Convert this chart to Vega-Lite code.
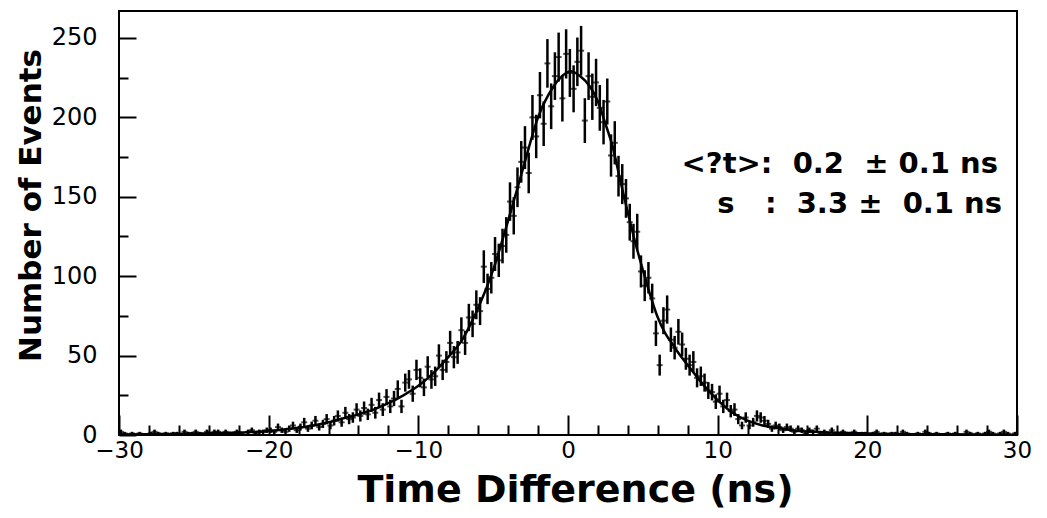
{
  "$schema": "https://vega.github.io/schema/vega-lite/v6.json",
  "autosize": {"type": "none"},
  "width": 898,
  "height": 424,
  "padding": {"left": 119, "top": 11, "right": 30, "bottom": 83},
  "background": "white",
  "config": {"view": {"stroke": "black", "strokeWidth": 2}},
  "datasets": {
    "hist": [
      {"x":-29.875,"n":2,"e":1.4},{"x":-29.625,"n":1,"e":1},{"x":-29.375,"n":0,"e":0},{"x":-29.125,"n":1,"e":1},{"x":-28.875,"n":0,"e":0},{"x":-28.625,"n":1,"e":1},{"x":-28.375,"n":0,"e":0},{"x":-28.125,"n":0,"e":0},{"x":-27.875,"n":1,"e":1},{"x":-27.625,"n":2,"e":1.4},
      {"x":-27.375,"n":1,"e":1},{"x":-27.125,"n":0,"e":0},{"x":-26.875,"n":1,"e":1},{"x":-26.625,"n":0,"e":0},{"x":-26.375,"n":1,"e":1},{"x":-26.125,"n":1,"e":1},{"x":-25.875,"n":0,"e":0},{"x":-25.625,"n":2,"e":1.4},{"x":-25.375,"n":1,"e":1},{"x":-25.125,"n":1,"e":1},
      {"x":-24.875,"n":2,"e":1.4},{"x":-24.625,"n":1,"e":1},{"x":-24.375,"n":0,"e":0},{"x":-24.125,"n":2,"e":1.4},{"x":-23.875,"n":1,"e":1},{"x":-23.625,"n":2,"e":1.4},{"x":-23.375,"n":2,"e":1.4},{"x":-23.125,"n":1,"e":1},{"x":-22.875,"n":2,"e":1.4},{"x":-22.625,"n":1,"e":1},
      {"x":-22.375,"n":1,"e":1},{"x":-22.125,"n":2,"e":1.4},{"x":-21.875,"n":1,"e":1},{"x":-21.625,"n":0,"e":0},{"x":-21.375,"n":2,"e":1.4},{"x":-21.125,"n":3,"e":1.7},{"x":-20.875,"n":1,"e":1},{"x":-20.625,"n":2,"e":1.4},{"x":-20.375,"n":2,"e":1.4},{"x":-20.125,"n":3,"e":1.7},
      {"x":-19.875,"n":3,"e":1.7},{"x":-19.625,"n":2,"e":1.4},{"x":-19.375,"n":5,"e":2.2},{"x":-19.125,"n":3,"e":1.7},{"x":-18.875,"n":2,"e":1.4},{"x":-18.625,"n":4,"e":2},{"x":-18.375,"n":6,"e":2.4},{"x":-18.125,"n":3,"e":1.7},{"x":-17.875,"n":5,"e":2.2},{"x":-17.625,"n":8,"e":2.8},
      {"x":-17.375,"n":4,"e":2},{"x":-17.125,"n":6,"e":2.4},{"x":-16.875,"n":9,"e":3},{"x":-16.625,"n":5,"e":2.2},{"x":-16.375,"n":7,"e":2.6},{"x":-16.125,"n":10,"e":3.2},{"x":-15.875,"n":6,"e":2.4},{"x":-15.625,"n":9,"e":3},{"x":-15.375,"n":12,"e":3.5},{"x":-15.125,"n":8,"e":2.8},
      {"x":-14.875,"n":14,"e":3.7},{"x":-14.625,"n":10,"e":3.2},{"x":-14.375,"n":11,"e":3.3},{"x":-14.125,"n":16,"e":4},{"x":-13.875,"n":12,"e":3.5},{"x":-13.625,"n":17,"e":4.1},{"x":-13.375,"n":13,"e":3.6},{"x":-13.125,"n":19,"e":4.4},{"x":-12.875,"n":14,"e":3.7},{"x":-12.625,"n":22,"e":4.7},
      {"x":-12.375,"n":16,"e":4},{"x":-12.125,"n":24,"e":4.9},{"x":-11.875,"n":18,"e":4.2},{"x":-11.625,"n":23,"e":4.8},{"x":-11.375,"n":29,"e":5.4},{"x":-11.125,"n":18,"e":4.2},{"x":-10.875,"n":33,"e":5.7},{"x":-10.625,"n":35,"e":5.9},{"x":-10.375,"n":26,"e":5.1},{"x":-10.125,"n":41,"e":6.4},
      {"x":-9.875,"n":36,"e":6},{"x":-9.625,"n":30,"e":5.5},{"x":-9.375,"n":43,"e":6.6},{"x":-9.125,"n":35,"e":5.9},{"x":-8.875,"n":37,"e":6.1},{"x":-8.625,"n":50,"e":7.1},{"x":-8.375,"n":41,"e":6.4},{"x":-8.125,"n":46,"e":6.8},{"x":-7.875,"n":58,"e":7.6},{"x":-7.625,"n":49,"e":7},
      {"x":-7.375,"n":52,"e":7.2},{"x":-7.125,"n":66,"e":8.1},{"x":-6.875,"n":58,"e":7.6},{"x":-6.625,"n":74,"e":8.6},{"x":-6.375,"n":70,"e":8.4},{"x":-6.125,"n":82,"e":9.1},{"x":-5.875,"n":78,"e":8.8},{"x":-5.625,"n":106,"e":10.3},{"x":-5.375,"n":92,"e":9.6},{"x":-5.125,"n":99,"e":9.9},
      {"x":-4.875,"n":114,"e":10.7},{"x":-4.625,"n":110,"e":10.5},{"x":-4.375,"n":119,"e":10.9},{"x":-4.125,"n":126,"e":11.2},{"x":-3.875,"n":147,"e":12.1},{"x":-3.625,"n":138,"e":11.7},{"x":-3.375,"n":156,"e":12.5},{"x":-3.125,"n":172,"e":13.1},{"x":-2.875,"n":181,"e":13.5},{"x":-2.625,"n":165,"e":12.8},
      {"x":-2.375,"n":200,"e":14.1},{"x":-2.125,"n":188,"e":13.7},{"x":-1.875,"n":214,"e":14.6},{"x":-1.625,"n":196,"e":14},{"x":-1.375,"n":234,"e":15.3},{"x":-1.125,"n":207,"e":14.4},{"x":-0.875,"n":226,"e":15},{"x":-0.625,"n":238,"e":15.4},{"x":-0.375,"n":212,"e":14.6},{"x":-0.125,"n":240,"e":15.5},
      {"x":0.125,"n":228,"e":15.1},{"x":0.375,"n":218,"e":14.8},{"x":0.625,"n":235,"e":15.3},{"x":0.875,"n":242,"e":15.6},{"x":1.125,"n":198,"e":14.1},{"x":1.375,"n":226,"e":15},{"x":1.625,"n":213,"e":14.6},{"x":1.875,"n":222,"e":14.9},{"x":2.125,"n":206,"e":14.4},{"x":2.375,"n":197,"e":14},
      {"x":2.625,"n":210,"e":14.5},{"x":2.875,"n":176,"e":13.3},{"x":3.125,"n":184,"e":13.6},{"x":3.375,"n":163,"e":12.8},{"x":3.625,"n":158,"e":12.6},{"x":3.875,"n":149,"e":12.2},{"x":4.125,"n":134,"e":11.6},{"x":4.375,"n":122,"e":11},{"x":4.625,"n":128,"e":11.3},{"x":4.875,"n":103,"e":10.1},
      {"x":5.125,"n":94,"e":9.7},{"x":5.375,"n":99,"e":9.9},{"x":5.625,"n":86,"e":9.3},{"x":5.875,"n":64,"e":8},{"x":6.125,"n":44,"e":6.6},{"x":6.375,"n":72,"e":8.5},{"x":6.625,"n":79,"e":8.9},{"x":6.875,"n":60,"e":7.7},{"x":7.125,"n":55,"e":7.4},{"x":7.375,"n":65,"e":8.1},
      {"x":7.625,"n":57,"e":7.5},{"x":7.875,"n":48,"e":6.9},{"x":8.125,"n":44,"e":6.6},{"x":8.375,"n":46,"e":6.8},{"x":8.625,"n":36,"e":6},{"x":8.875,"n":37,"e":6.1},{"x":9.125,"n":33,"e":5.7},{"x":9.375,"n":28,"e":5.3},{"x":9.625,"n":27,"e":5.2},{"x":9.875,"n":21,"e":4.6},
      {"x":10.125,"n":26,"e":5.1},{"x":10.375,"n":18,"e":4.2},{"x":10.625,"n":22,"e":4.7},{"x":10.875,"n":15,"e":3.9},{"x":11.125,"n":16,"e":4},{"x":11.375,"n":10,"e":3.2},{"x":11.625,"n":6,"e":2.4},{"x":11.875,"n":11,"e":3.3},{"x":12.125,"n":6,"e":2.4},{"x":12.375,"n":8,"e":2.8},
      {"x":12.625,"n":12,"e":3.5},{"x":12.875,"n":11,"e":3.3},{"x":13.125,"n":9,"e":3},{"x":13.375,"n":7,"e":2.6},{"x":13.625,"n":4,"e":2},{"x":13.875,"n":6,"e":2.4},{"x":14.125,"n":5,"e":2.2},{"x":14.375,"n":3,"e":1.7},{"x":14.625,"n":5,"e":2.2},{"x":14.875,"n":4,"e":2},
      {"x":15.125,"n":2,"e":1.4},{"x":15.375,"n":4,"e":2},{"x":15.625,"n":3,"e":1.7},{"x":15.875,"n":1,"e":1},{"x":16.125,"n":3,"e":1.7},{"x":16.375,"n":2,"e":1.4},{"x":16.625,"n":4,"e":2},{"x":16.875,"n":1,"e":1},{"x":17.125,"n":2,"e":1.4},{"x":17.375,"n":1,"e":1},
      {"x":17.625,"n":3,"e":1.7},{"x":17.875,"n":1,"e":1},{"x":18.125,"n":0,"e":0},{"x":18.375,"n":2,"e":1.4},{"x":18.625,"n":1,"e":1},{"x":18.875,"n":1,"e":1},{"x":19.125,"n":2,"e":1.4},{"x":19.375,"n":0,"e":0},{"x":19.625,"n":1,"e":1},{"x":19.875,"n":1,"e":1},
      {"x":20.125,"n":0,"e":0},{"x":20.375,"n":1,"e":1},{"x":20.625,"n":2,"e":1.4},{"x":20.875,"n":0,"e":0},{"x":21.125,"n":1,"e":1},{"x":21.375,"n":0,"e":0},{"x":21.625,"n":1,"e":1},{"x":21.875,"n":1,"e":1},{"x":22.125,"n":0,"e":0},{"x":22.375,"n":2,"e":1.4},
      {"x":22.625,"n":1,"e":1},{"x":22.875,"n":0,"e":0},{"x":23.125,"n":0,"e":0},{"x":23.375,"n":1,"e":1},{"x":23.625,"n":0,"e":0},{"x":23.875,"n":2,"e":1.4},{"x":24.125,"n":1,"e":1},{"x":24.375,"n":0,"e":0},{"x":24.625,"n":1,"e":1},{"x":24.875,"n":0,"e":0},
      {"x":25.125,"n":0,"e":0},{"x":25.375,"n":1,"e":1},{"x":25.625,"n":0,"e":0},{"x":25.875,"n":1,"e":1},{"x":26.125,"n":0,"e":0},{"x":26.375,"n":0,"e":0},{"x":26.625,"n":2,"e":1.4},{"x":26.875,"n":1,"e":1},{"x":27.125,"n":0,"e":0},{"x":27.375,"n":1,"e":1},
      {"x":27.625,"n":0,"e":0},{"x":27.875,"n":1,"e":1},{"x":28.125,"n":2,"e":1.4},{"x":28.375,"n":1,"e":1},{"x":28.625,"n":0,"e":0},{"x":28.875,"n":1,"e":1},{"x":29.125,"n":2,"e":1.4},{"x":29.375,"n":1,"e":1},{"x":29.625,"n":0,"e":0},{"x":29.875,"n":1,"e":1}
    ],
    "fit": [
      {"x":-30,"v":0.3},{"x":-25,"v":0.8},{"x":-22,"v":1.5},{"x":-20,"v":2.5},{"x":-19,"v":3.5},{"x":-18,"v":4.5},{"x":-17,"v":6},{"x":-16,"v":8},{"x":-15,"v":10.5},{"x":-14,"v":13},{"x":-13,"v":16},{"x":-12,"v":20},{"x":-11,"v":25},{"x":-10,"v":31},{"x":-9,"v":39},{"x":-8,"v":49},{"x":-7,"v":61},{"x":-6.5,"v":70},{"x":-6,"v":80},{"x":-5,"v":104},{"x":-4,"v":135},{"x":-3,"v":168},{"x":-2,"v":200},{"x":-1,"v":219},{"x":-0.5,"v":225},{"x":0.2,"v":229},{"x":0.8,"v":226},{"x":1.5,"v":219},{"x":2,"v":210},{"x":2.5,"v":196},{"x":3,"v":181},{"x":3.5,"v":160},{"x":4,"v":140},{"x":4.5,"v":121},{"x":5,"v":104},{"x":5.5,"v":88},{"x":6,"v":74},{"x":6.5,"v":64},{"x":7,"v":57},{"x":7.5,"v":50},{"x":8,"v":44},{"x":9,"v":32},{"x":10,"v":22},{"x":11,"v":14},{"x":12,"v":9},{"x":13,"v":6},{"x":14,"v":4.5},{"x":15,"v":3},{"x":17,"v":1.8},{"x":20,"v":1},{"x":25,"v":0.4},{"x":30,"v":0.2}
    ],
    "notes": [
      {"label":"<?t>:\u00a0\u00a00.2\u00a0\u00a0±\u00a00.1\u00a0ns","tx":28.73,"ty":165},
      {"label":"s\u00a0\u00a0\u00a0:\u00a0\u00a03.3\u00a0±\u00a0\u00a00.1\u00a0ns","tx":29.0,"ty":140}
    ]
  },
  "encoding": {
    "x": {
      "field": "x", "type": "quantitative",
      "scale": {"domain": [-30, 30], "nice": false, "zero": false},
      "axis": {
        "values": [-30,-28,-26,-24,-22,-20,-18,-16,-14,-12,-10,-8,-6,-4,-2,0,2,4,6,8,10,12,14,16,18,20,22,24,26,28,30],
        "tickSize": {"condition": {"test": "datum.value % 10 === 0", "value": -20}, "value": -10},
        "tickColor": "black", "tickWidth": 2,
        "labelExpr": "datum.value % 10 === 0 ? datum.label : ''",
        "labelFont": "DejaVu Sans", "labelFontSize": 23, "labelColor": "black",
        "labelPadding": 24, "labelFlush": false, "labelOverlap": false,
        "domain": false, "grid": false,
        "title": "Time Difference (ns)",
        "titleFont": "DejaVu Sans", "titleFontWeight": "bold", "titleFontSize": 38, "titleColor": "black",
        "titleX": 456, "titleY": 66, "titleBaseline": "alphabetic", "titleAlign": "center"
      }
    }
  },
  "layer": [
    {
      "data": {"name": "hist"},
      "mark": {"type": "errorbar", "color": "black", "thickness": 2.5},
      "encoding": {
        "y": {
          "field": "n", "type": "quantitative",
          "scale": {"domain": [0, 267], "nice": false},
          "axis": {
            "values": [0,25,50,75,100,125,150,175,200,225,250],
            "tickSize": {"condition": {"test": "datum.value % 50 === 0", "value": -17}, "value": -9},
            "tickColor": "black", "tickWidth": 2,
            "labelExpr": "datum.value % 50 === 0 ? datum.label : ''",
            "labelFont": "DejaVu Sans", "labelFontSize": 24, "labelColor": "black",
            "labelPadding": 39, "labelFlush": false, "labelOverlap": false,
            "domain": false, "grid": false,
            "title": "Number of Events",
            "titleFont": "DejaVu Sans", "titleFontWeight": "bold", "titleFontSize": 31, "titleColor": "black",
            "titleX": -88, "titleY": 194, "titleAngle": 270, "titleBaseline": "middle", "titleAlign": "center"
          }
        },
        "yError": {"field": "e"}
      }
    },
    {
      "data": {"name": "hist"},
      "mark": {"type": "tick", "orient": "horizontal", "size": 6, "thickness": 2, "color": "black"},
      "encoding": {"y": {"field": "n", "type": "quantitative"}}
    },
    {
      "data": {"name": "fit"},
      "mark": {"type": "line", "color": "black", "strokeWidth": 2.5, "interpolate": "monotone"},
      "encoding": {"y": {"field": "v", "type": "quantitative"}}
    },
    {
      "data": {"name": "notes"},
      "mark": {"type": "text", "align": "right", "baseline": "alphabetic", "font": "DejaVu Sans", "fontWeight": "bold", "fontSize": 29, "color": "black"},
      "encoding": {
        "x": {"field": "tx", "type": "quantitative"},
        "y": {"field": "ty", "type": "quantitative"},
        "text": {"field": "label"}
      }
    }
  ]
}
